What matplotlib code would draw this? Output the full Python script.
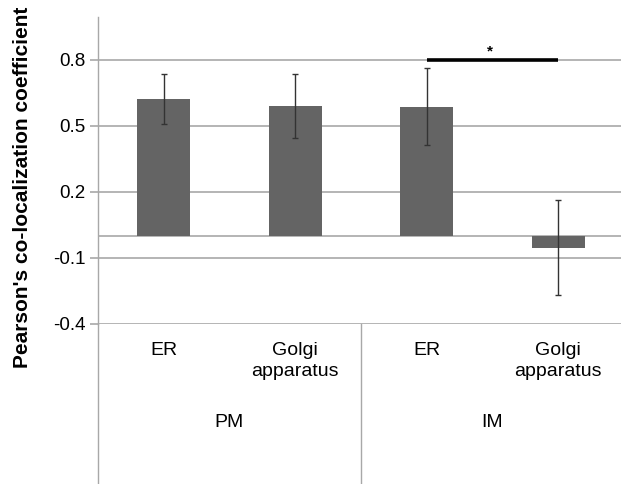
import matplotlib
matplotlib.use("Agg")
import matplotlib.pyplot as plt
from matplotlib.lines import Line2D

plt.rcParams['font.family'] = ['Liberation Sans', 'DejaVu Sans']

groups = ["PM", "IM"]
categories = ["ER", "Golgi\napparatus", "ER", "Golgi\napparatus"]
values = [0.621, 0.591, 0.588, -0.054]
errors = [0.114, 0.144, 0.173, 0.216]
ytick_vals = [0.8, 0.5, 0.2, -0.1, -0.4]
ytick_labels = ["0.8", "0.5", "0.2", "-0.1", "-0.4"]
sig_pair = (2, 3)
sig_level = 0.80

W, H = 621, 484
fig = plt.figure(figsize=(W / 100, H / 100), dpi=100)
fig.patch.set_facecolor("white")

x0, x1 = 98, 624
ytop, ybot = 17, 324
ax = fig.add_axes([x0 / W, (H - ybot) / H, (x1 - x0) / W, (ybot - ytop) / H])

grid_c = "#a8a8a8"
xs = list(range(len(values)))
ax.bar(xs, values, width=0.4, color="#646464", zorder=3)
ax.errorbar(xs, values, yerr=errors, fmt="none", ecolor="#333333",
            elinewidth=1.0, capsize=2.5, capthick=1.0, zorder=4)

ax.set_xlim(-0.5, 3.5)
ax.set_ylim(-0.4, 0.995)
ax.set_yticks(ytick_vals)
ax.set_yticklabels(ytick_labels, fontsize=13.5)
ax.set_xticks([])
for yv in ytick_vals:
    ax.axhline(yv, color=grid_c, lw=1.2, zorder=1)
ax.axhline(0, color=grid_c, lw=1.2, zorder=2)

for s in ["top", "right", "bottom"]:
    ax.spines[s].set_visible(False)
ax.spines["left"].set_color(grid_c)
ax.spines["left"].set_linewidth(1.0)
ax.tick_params(axis="y", length=6, color=grid_c, width=1.2, pad=3)

# significance bar
ax.plot([sig_pair[0], sig_pair[1]], [sig_level, sig_level], color="black",
        lw=2.6, solid_capstyle="butt", zorder=5)
ax.text((sig_pair[0] + sig_pair[1]) / 2 - 0.02, sig_level + 0.005, "*",
        ha="center", va="bottom", fontsize=11, fontweight="bold")

# category labels below axis
trans = ax.get_xaxis_transform()
for i, lab in enumerate(categories):
    ax.text(i, -0.06, lab, transform=trans, ha="center", va="top",
            fontsize=14, linespacing=1.25)
for j, g in enumerate(groups):
    ax.text(2 * j + 0.5, -0.322, g, transform=trans, ha="center", va="center",
            fontsize=14)

# vertical lines extending below axis
fig.add_artist(Line2D([x0 / W, x0 / W], [0, (H - ybot) / H],
                      color=grid_c, lw=1.0))
xsep = x0 + (x1 - x0) / 2
fig.add_artist(Line2D([xsep / W, xsep / W], [0, (H - ybot) / H],
                      color=grid_c, lw=1.0))

fig.text(23 / W, 1 - 187 / H, "Pearson's co-localization coefficient",
         rotation=90, ha="center", va="center", fontsize=15,
         fontweight="bold")

fig.savefig("out.png", dpi=100)
